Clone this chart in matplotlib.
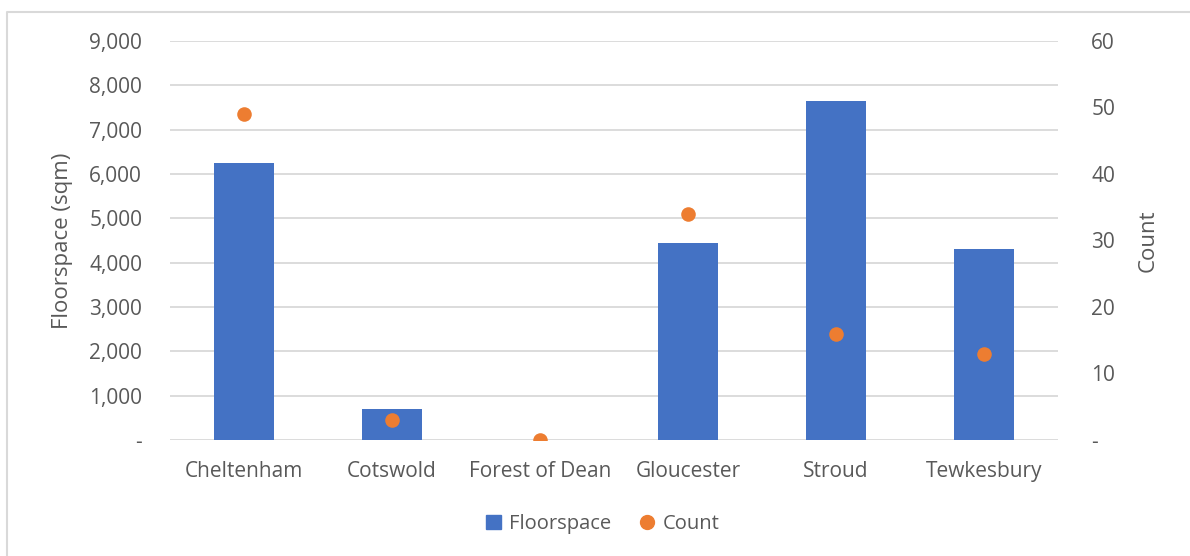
import numpy as np
import matplotlib.pyplot as plt
from matplotlib.patches import Rectangle
from matplotlib.lines import Line2D
from matplotlib.ticker import FuncFormatter

districts = ["Cheltenham", "Cotswold", "Forest of Dean", "Gloucester", "Stroud", "Tewkesbury"]
floorspace = [6250, 700, 0, 4450, 7650, 4310]
counts = [49, 3, 0, 34, 16, 13]

blue = "#4472C4"
orange = "#ED7D31"
grey_txt = "#595959"

plt.rcParams["font.family"] = ["Open Sans", "DejaVu Sans"]

fig = plt.figure(figsize=(11.9, 5.56), dpi=100)
ax = fig.add_axes([170 / 1190, 1 - 440 / 556, 888 / 1190, 399 / 556])
ax2 = ax.twinx()

x = np.arange(len(districts))
ax.bar(x, floorspace, width=0.405, color=blue, zorder=2)
ax2.scatter(x, counts, s=110, color=orange, zorder=3, linewidths=0)

ax.set_xlim(-0.5, len(districts) - 0.5)
ax.set_ylim(0, 9000)
ax.set_yticks(range(0, 9001, 1000))
ax2.set_ylim(0, 60)
ax2.set_yticks(range(0, 61, 10))

fmt_left = FuncFormatter(lambda v, p: "-" if v == 0 else f"{int(v):,}")
fmt_right = FuncFormatter(lambda v, p: "-" if v == 0 else f"{int(v)}")
ax.yaxis.set_major_formatter(fmt_left)
ax2.yaxis.set_major_formatter(fmt_right)

ax.set_axisbelow(True)
ax.grid(axis="y", color="#D9D9D9", linewidth=1.3, zorder=0)
ax.set_xticks(x)
ax.set_xticklabels(districts)

for a in (ax, ax2):
    for s in a.spines.values():
        s.set_visible(False)
    a.tick_params(length=0, labelsize=15, labelcolor=grey_txt)
ax.tick_params(axis="y", pad=20)
ax2.tick_params(axis="y", pad=24)
ax.tick_params(axis="x", pad=15)

ax.set_ylabel("Floorspace (sqm)", fontsize=16, color=grey_txt, labelpad=12)
ax2.set_ylabel("Count", fontsize=16, color=grey_txt, labelpad=16)

handles = [
    Rectangle((0, 0), 1, 1, color=blue),
    Line2D([], [], marker="o", linestyle="", color=orange, markersize=10),
]
fig.legend(handles, ["Floorspace", "Count"], loc="center", bbox_to_anchor=(603 / 1190, 1 - 524 / 556),
           ncol=2, frameon=False, fontsize=14.5, labelcolor=grey_txt, handlelength=0.75,
           handleheight=0.75, handletextpad=0.4, columnspacing=1.4)

# only the top and left edges of the chart frame show in the crop
fig.add_artist(Line2D([7 / 1190, 7 / 1190, 1], [0, 1 - 12 / 556, 1 - 12 / 556], transform=fig.transFigure,
                      color="#D9D9D9", linewidth=1.5))

fig.savefig("out.png", dpi=100)
